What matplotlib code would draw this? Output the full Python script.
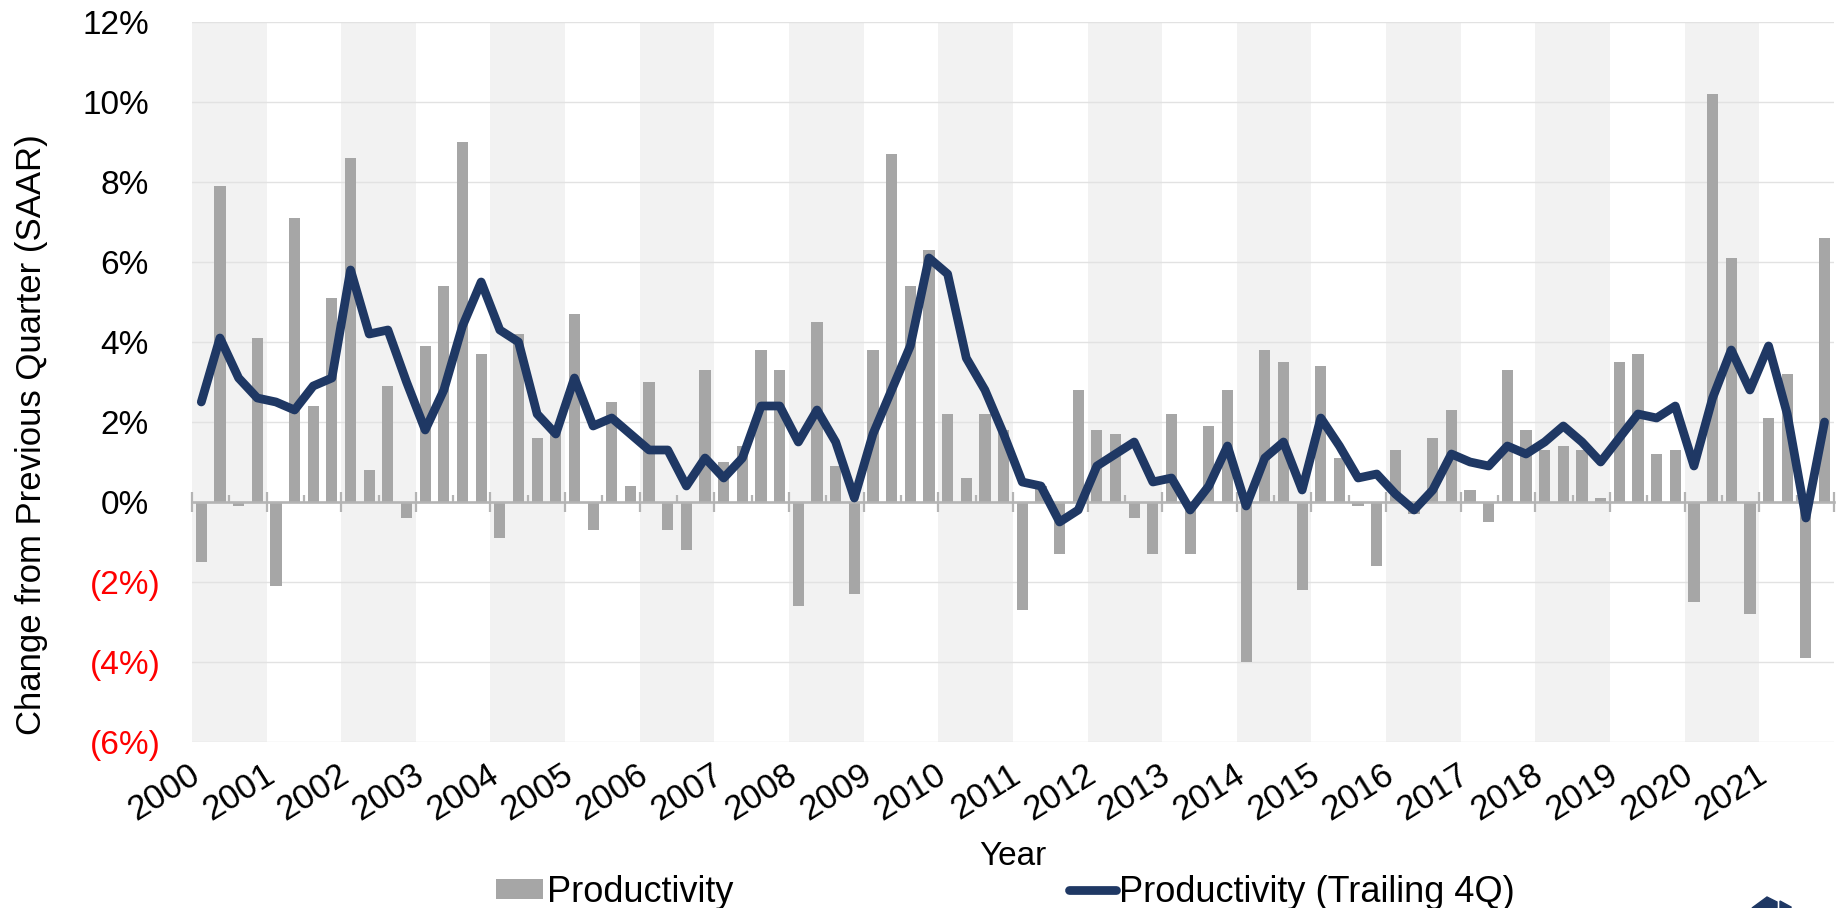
import numpy as np
import matplotlib
matplotlib.use("Agg")
import matplotlib.pyplot as plt
import matplotlib.transforms as mtransforms
from matplotlib.patches import Polygon

plt.rcParams['font.family'] = ['Liberation Sans', 'DejaVu Sans']

# quarterly data, 2000Q1 .. 2021Q4
years = list(range(2000, 2022))
productivity = [
    -1.5, 7.9, -0.1, 4.1,   # 2000
    -2.1, 7.1, 2.4, 5.1,    # 2001
    8.6, 0.8, 2.9, -0.4,    # 2002
    3.9, 5.4, 9.0, 3.7,     # 2003
    -0.9, 4.2, 1.6, 1.8,    # 2004
    4.7, -0.7, 2.5, 0.4,    # 2005
    3.0, -0.7, -1.2, 3.3,   # 2006
    1.0, 1.4, 3.8, 3.3,     # 2007
    -2.6, 4.5, 0.9, -2.3,   # 2008
    3.8, 8.7, 5.4, 6.3,     # 2009
    2.2, 0.6, 2.2, 1.8,     # 2010
    -2.7, 0.4, -1.3, 2.8,   # 2011
    1.8, 1.7, -0.4, -1.3,   # 2012
    2.2, -1.3, 1.9, 2.8,    # 2013
    -4.0, 3.8, 3.5, -2.2,   # 2014
    3.4, 1.1, -0.1, -1.6,   # 2015
    1.3, -0.3, 1.6, 2.3,    # 2016
    0.3, -0.5, 3.3, 1.8,    # 2017
    1.3, 1.4, 1.3, 0.1,     # 2018
    3.5, 3.7, 1.2, 1.3,     # 2019
    -2.5, 10.2, 6.1, -2.8,  # 2020
    2.1, 3.2, -3.9, 6.6,    # 2021
]
trailing_4q = [
    2.5, 4.1, 3.1, 2.6,
    2.5, 2.3, 2.9, 3.1,
    5.8, 4.2, 4.3, 3.0,
    1.8, 2.8, 4.4, 5.5,
    4.3, 4.0, 2.2, 1.7,
    3.1, 1.9, 2.1, 1.7,
    1.3, 1.3, 0.4, 1.1,
    0.6, 1.1, 2.4, 2.4,
    1.5, 2.3, 1.5, 0.1,
    1.7, 2.8, 3.9, 6.1,
    5.7, 3.6, 2.8, 1.7,
    0.5, 0.4, -0.5, -0.2,
    0.9, 1.2, 1.5, 0.5,
    0.6, -0.2, 0.4, 1.4,
    -0.1, 1.1, 1.5, 0.3,
    2.1, 1.4, 0.6, 0.7,
    0.2, -0.2, 0.3, 1.2,
    1.0, 0.9, 1.4, 1.2,
    1.5, 1.9, 1.5, 1.0,
    1.6, 2.2, 2.1, 2.4,
    0.9, 2.6, 3.8, 2.8,
    3.9, 2.2, -0.4, 2.0,
]
y_ticks = [-6, -4, -2, 0, 2, 4, 6, 8, 10, 12]
y_tick_labels = ['(6%)', '(4%)', '(2%)', '0%', '2%', '4%', '6%', '8%', '10%', '12%']

BAR_COLOR = '#a6a6a6'
LINE_COLOR = '#1f3864'
AXIS_GRAY = '#b4b4b4'

fig = plt.figure(figsize=(18.37, 9.08), dpi=100)
ax = fig.add_axes([0.1045, 0.1828, 0.8938, 0.793])

# quarter centres
x = np.array([yr + (q + 0.5) / 4 for yr in years for q in range(4)])

# alternating year bands
for yr in years[::2]:
    ax.axvspan(yr, yr + 1, color='#f2f2f2', lw=0, zorder=0)

bars = ax.bar(x, productivity, width=0.6 / 4, color=BAR_COLOR, zorder=1,
              label='Productivity')
line, = ax.plot(x, trailing_4q, color=LINE_COLOR, lw=6.3, solid_joinstyle='round',
                solid_capstyle='round', zorder=3, label='Productivity (Trailing 4Q)')

ax.set_xlim(2000, 2022)
ax.set_ylim(-6, 12)
ax.set_yticks(y_ticks)
ax.tick_params(axis='y', length=0, labelleft=False)
ax.grid(axis='y', color='#e2e2e2', lw=1.0)
ax.set_axisbelow(True)

for s in ['top', 'right', 'left']:
    ax.spines[s].set_visible(False)
ax.spines['bottom'].set_position(('data', 0))
ax.spines['bottom'].set_color(AXIS_GRAY)
ax.spines['bottom'].set_linewidth(1.9)
ax.spines['bottom'].set_zorder(2.5)

ax.set_xticks(range(2000, 2023))
ax.set_xticks(np.arange(2000.5, 2022, 1), minor=True)
ax.tick_params(axis='x', which='major', direction='inout', length=15, width=1.6,
               color=AXIS_GRAY, labelbottom=False)
ax.tick_params(axis='x', which='minor', direction='in', length=5, width=1.6,
               color=AXIS_GRAY)

# year labels at the bottom of the plot
xlab_tr = mtransforms.blended_transform_factory(ax.transData, ax.transAxes) + \
    mtransforms.ScaledTranslation(0.05, -0.30, fig.dpi_scale_trans)
for yr in years:
    ax.text(yr, 0, str(yr), transform=xlab_tr, rotation=32, rotation_mode='anchor',
            ha='right', va='center', fontsize=25)

# y labels, negatives red in parentheses
ybase = mtransforms.blended_transform_factory(ax.transAxes, ax.transData)
for v, lbl in zip(y_ticks, y_tick_labels):
    dx = -0.31 if v < 0 else -0.43
    tr = ybase + mtransforms.ScaledTranslation(dx, 0, fig.dpi_scale_trans)
    ax.text(0, v, lbl, transform=tr, ha='right', va='center_baseline',
            fontsize=24, color='#ff0000' if v < 0 else 'black')

fig.text(32 / 1837, 1 - 435 / 908, 'Change from Previous Quarter (SAAR)',
         rotation=90, ha='center', va='center', fontsize=25)
fig.text(1013 / 1837, 1 - 865 / 908, 'Year', ha='center', va='baseline', fontsize=24)

fig.legend([bars, line], ['Productivity', 'Productivity (Trailing 4Q)'],
           loc='lower left', bbox_to_anchor=(496 / 1837, -2 / 908),
           ncol=2, frameon=False, fontsize=26, handlelength=1.3, handleheight=0.5,
           handletextpad=0.1, columnspacing=9.3, borderpad=0, borderaxespad=0)

# partial logo at bottom right
def px(pts):
    return [(a / 1837, 1 - b / 908) for a, b in pts]

fig.patches.append(Polygon(px([(1752, 908), (1767, 897), (1777, 902), (1777, 908)]),
                           closed=True, color=LINE_COLOR, transform=fig.transFigure))
fig.patches.append(Polygon(px([(1780, 901), (1791, 907), (1791, 908), (1780, 908)]),
                           closed=True, color=LINE_COLOR, transform=fig.transFigure))

fig.savefig('out.png', dpi=100)
